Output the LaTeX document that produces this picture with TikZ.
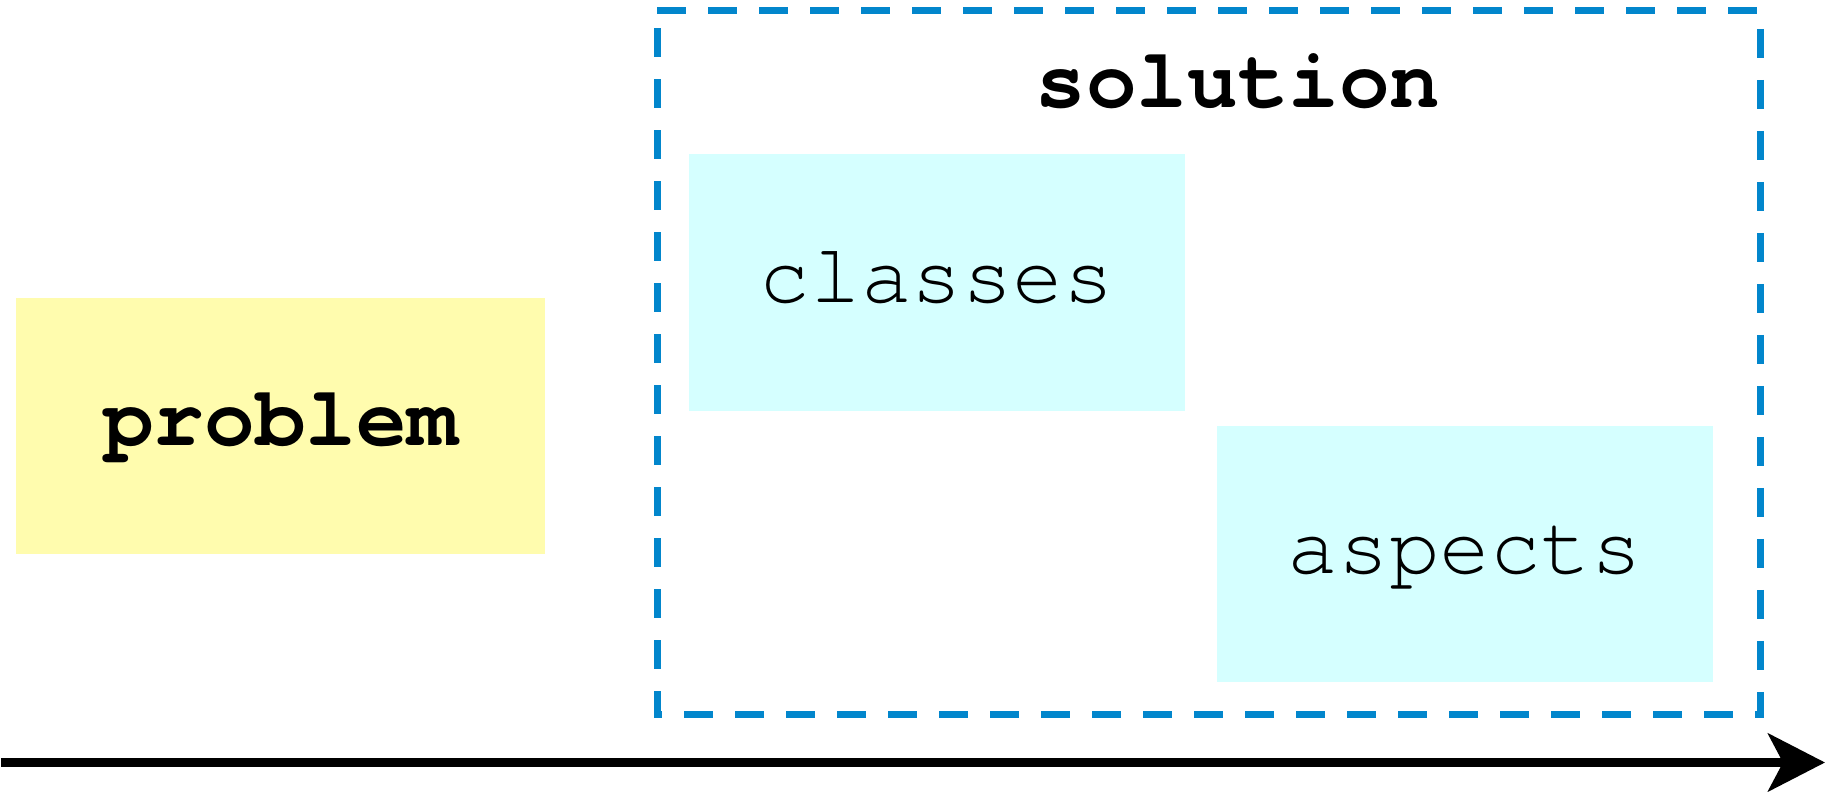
\documentclass[tikz,border=0pt]{standalone}
\usepackage{fontspec}
\setmonofont{TeX Gyre Cursor}
\usepackage{tikz}
\usetikzlibrary{arrows.meta}
\definecolor{probyellow}{RGB}{255,252,174}
\definecolor{partcyan}{RGB}{213,255,255}
\definecolor{frameblue}{RGB}{2,134,204}

\begin{document}
\begin{tikzpicture}
\useasboundingbox (0,0) rectangle (18.31,-7.92);
\begin{scope}[every node/.style={rectangle,minimum width=4.96cm,minimum height=2.57cm,inner sep=0pt,text height=0.5cm,text depth=0.1cm,font=\ttfamily\fontsize{24}{28}\selectfont}]
\node[fill=probyellow,minimum width=5.29cm,minimum height=2.56cm,font=\ttfamily\bfseries\fontsize{24}{28}\selectfont] (problem) at (2.805,-4.26) {problem};
\node[fill=partcyan] (classes) at (9.37,-2.825) {classes};
\node[fill=partcyan,minimum height=2.56cm] (aspects) at (14.65,-5.54) {aspects};
\end{scope}

% dashed frame round the solution part
\coordinate (tl) at (6.57,-0.105);
\coordinate (tr) at (17.605,-0.105);
\coordinate (br) at (17.605,-7.15);
\coordinate (bl) at (6.57,-7.15);
\draw[frameblue, line width=0.07cm, dash pattern=on 0.29cm off 0.22cm] (tl) -- (tr) -- (br) -- (bl) -- cycle;
\node[anchor=base,font=\ttfamily\bfseries\fontsize{24}{28}\selectfont] (solution) at (12.38,-1.08) {solution};

% time axis
\coordinate (start) at (0.01,-7.625);
\coordinate (end) at (18.25,-7.625);
\draw[line width=0.09cm, -{Stealth[length=0.57cm,width=0.58cm,inset=0.15cm]}] (start) -- (end);
\end{tikzpicture}
\end{document}
